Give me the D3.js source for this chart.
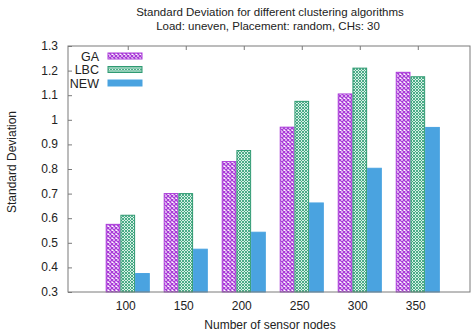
<!DOCTYPE html>
<html>
<head>
<meta charset="utf-8">
<script src="https://cdn.jsdelivr.net/npm/d3@7"></script>
<style>
  body { margin: 0; background: #fff; }
  text { font-family: 'Liberation Sans', Arial, sans-serif; fill: #222; }
</style>
</head>
<body>
<div class="container"></div>
<script>
var w = 472, h = 336

// data
var nodes = ['100', '150', '200', '250', '300', '350']
var seriesNames = ['GA', 'LBC', 'NEW']
var gaVals  = [0.575, 0.70, 0.83, 0.97, 1.105, 1.193]
var lbcVals = [0.612, 0.70, 0.875, 1.075, 1.21, 1.175]
var newVals = [0.375, 0.474, 0.543, 0.662, 0.803, 0.969]
var yTicks = [0.3, 0.4, 0.5, 0.6, 0.7, 0.8, 0.9, 1, 1.1, 1.2, 1.3]

// plot area (note: "top" is taken by window.top)
var pLeft = 68, pRight = 470, pTop = 46, pBottom = 292

var svg = d3.select('.container')
    .append('svg')
    .attr('width', w)
    .attr('height', h)

var defs = svg.append('defs')

// GA: purple cross hatch
var pGA = defs.append('pattern')
    .attr('id', 'pGA')
    .attr('patternUnits', 'userSpaceOnUse')
    .attr('width', 4).attr('height', 4)
pGA.append('rect').attr('width', 4).attr('height', 4).style('fill', '#fff')
pGA.append('path').attr('d', 'M0,0L4,4M4,0L0,4')
    .style('stroke', '#a93ad8').style('stroke-width', 1.3)

// LBC: fine green cross hatch
var pLBC = defs.append('pattern')
    .attr('id', 'pLBC')
    .attr('patternUnits', 'userSpaceOnUse')
    .attr('width', 3).attr('height', 3)
pLBC.append('rect').attr('width', 3).attr('height', 3).style('fill', '#d8f0e6')
pLBC.append('path').attr('d', 'M0,0L3,3M3,0L0,3')
    .style('stroke', '#3ca57e').style('stroke-width', 0.9)

var fills = ['url(#pGA)', 'url(#pLBC)', '#4aa3e0']
var strokes = ['#a93ad8', '#2f9a72', '#4aa3e0']

var x = d3.scaleLinear().domain([-1.03, 5.9]).range([pLeft, pRight])
var y = d3.scaleLinear().domain([0.3, 1.3]).range([pBottom, pTop])
var bw = 14.7

var table = nodes.map((n, i) => ({ n: n, i: i, v: [gaVals[i], lbcVals[i], newVals[i]] }))

// bars
var groups = svg.selectAll('.grp')
    .data(table)
    .enter()
    .append('g')
    .attr('class', 'grp')

groups.selectAll('rect')
    .data(d => d.v.map((v, k) => ({ i: d.i, k: k, v: v })))
    .enter()
    .append('rect')
    .attr('x', d => x(d.i) - 1.5 * bw + d.k * bw + 0.5)
    .attr('y', d => y(d.v))
    .attr('width', bw - 1)
    .attr('height', d => y(0.3) - y(d.v))
    .style('fill', d => fills[d.k])
    .style('stroke', d => strokes[d.k])
    .style('stroke-width', 1)

// frame
svg.append('rect')
    .attr('x', pLeft).attr('y', pTop)
    .attr('width', pRight - pLeft).attr('height', pBottom - pTop)
    .style('fill', 'none')
    .style('stroke', '#7a7a7a')
    .style('stroke-width', 1)

// y axis, ticks inward
var yAxis = svg.append('g')
    .attr('transform', 'translate(' + pLeft + ',0)')
    .call(d3.axisRight(y).tickValues(yTicks).tickSize(4).tickFormat(''))
yAxis.select('.domain').remove()
yAxis.selectAll('line').style('stroke', '#7a7a7a')

svg.selectAll('.ylab')
    .data(yTicks)
    .enter()
    .append('text')
    .attr('class', 'ylab')
    .attr('x', pLeft - 10)
    .attr('y', d => y(d) + 4)
    .attr('text-anchor', 'end')
    .style('font-size', '12px')
    .text(d => d)

// x ticks (top, inward)
var xAxisTop = svg.append('g')
    .attr('transform', 'translate(0,' + pTop + ')')
    .call(d3.axisBottom(x).tickValues(d3.range(nodes.length)).tickSize(4).tickFormat(''))
xAxisTop.select('.domain').remove()
xAxisTop.selectAll('line').style('stroke', '#7a7a7a')

svg.selectAll('.xlab')
    .data(table)
    .enter()
    .append('text')
    .attr('class', 'xlab')
    .attr('x', d => x(d.i) - 2)
    .attr('y', 310)
    .attr('text-anchor', 'middle')
    .style('font-size', '12px')
    .text(d => d.n)

// titles
svg.append('text')
    .attr('x', 270).attr('y', 16)
    .attr('text-anchor', 'middle')
    .style('font-size', '11.5px')
    .text('Standard Deviation for different clustering algorithms')
svg.append('text')
    .attr('x', 268).attr('y', 30)
    .attr('text-anchor', 'middle')
    .style('font-size', '11.5px')
    .text('Load: uneven, Placement: random, CHs: 30')

svg.append('text')
    .attr('x', 270).attr('y', 329)
    .attr('text-anchor', 'middle')
    .style('font-size', '12px')
    .text('Number of sensor nodes')

svg.append('text')
    .attr('transform', 'translate(16,' + 162 + ') rotate(-90)')
    .attr('text-anchor', 'middle')
    .style('font-size', '12px')
    .text('Standard Deviation')

// legend
var legend = svg.selectAll('.leg')
    .data(seriesNames)
    .enter()
    .append('g')
    .attr('class', 'leg')
    .attr('transform', (d, i) => 'translate(0,' + (56 + i * 13.5) + ')')

legend.append('text')
    .attr('x', 99)
    .attr('y', 4.5)
    .attr('text-anchor', 'end')
    .style('font-size', '12.5px')
    .text(d => d)

legend.append('rect')
    .attr('x', 108)
    .attr('y', -3)
    .attr('width', 34)
    .attr('height', 6)
    .style('fill', (d, i) => fills[i])
    .style('stroke', (d, i) => strokes[i])
    .style('stroke-width', 1)
</script>
</body>
</html>
